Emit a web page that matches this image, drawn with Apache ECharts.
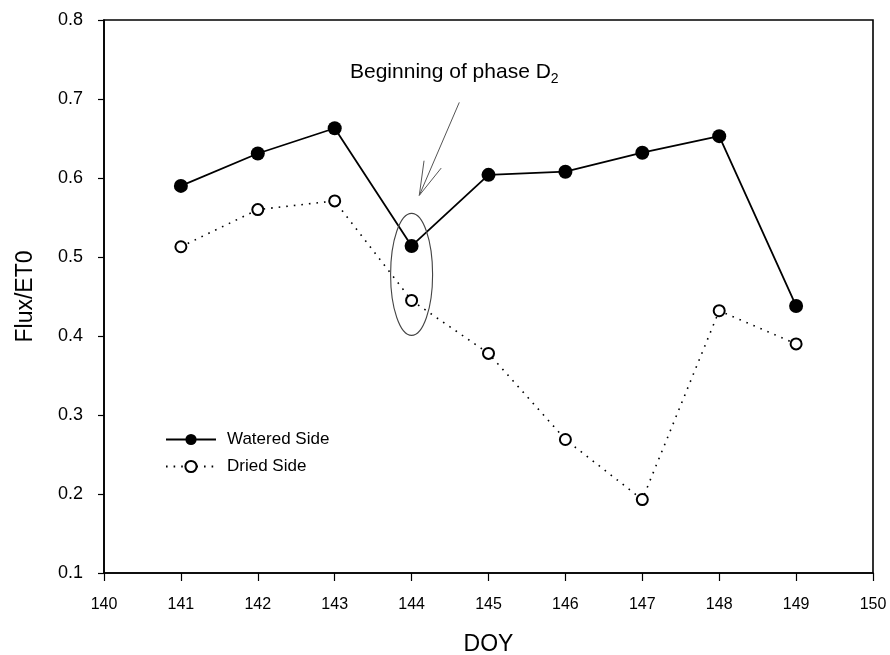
<!DOCTYPE html>
<html>
<head>
<meta charset="utf-8">
<script src="https://cdn.jsdelivr.net/npm/echarts@6/dist/echarts.min.js"></script>
<style>
  html, body { margin: 0; padding: 0; background: #fff; }
  #chart { width: 890px; height: 655px; }
</style>
</head>
<body>
<div id="chart"></div>
<script>
// Day of year
const doy = [141, 142, 143, 144, 145, 146, 147, 148, 149];
// Flux / ET0 ratio per side
const wateredSide = [0.590, 0.631, 0.663, 0.514, 0.604, 0.608, 0.632, 0.653, 0.438];
const driedSide   = [0.513, 0.560, 0.571, 0.445, 0.378, 0.269, 0.193, 0.432, 0.390];
// Axis tick values
const xTicks = [140, 141, 142, 143, 144, 145, 146, 147, 148, 149, 150];
const yTicks = [0.1, 0.2, 0.3, 0.4, 0.5, 0.6, 0.7, 0.8];

const FONT = '"Liberation Sans", Arial, sans-serif';
const chart = echarts.init(document.getElementById('chart'), null, { renderer: 'canvas' });

const pairs = (xs, ys) => xs.map((x, i) => [x, ys[i]]);

const option = {
  animation: false,
  backgroundColor: '#fff',
  grid: {
    left: 104, right: 17, top: 20, bottom: 82,
    outerBoundsMode: 'none', containLabel: false,
    show: true, borderColor: '#000', borderWidth: 1.6, backgroundColor: 'transparent'
  },
  xAxis: {
    type: 'value',
    min: xTicks[0], max: xTicks[xTicks.length - 1], interval: 1,
    name: 'DOY', nameLocation: 'middle', nameGap: 60,
    nameTextStyle: { fontFamily: FONT, fontSize: 23, color: '#000' },
    axisLine: { show: true, lineStyle: { color: '#000', width: 1.6 } },
    axisTick: { show: true, inside: false, length: 8, lineStyle: { color: '#000', width: 1.2 } },
    axisLabel: { fontFamily: FONT, fontSize: 16, color: '#000', margin: 24 },
    splitLine: { show: false }
  },
  yAxis: {
    type: 'value',
    min: yTicks[0], max: yTicks[yTicks.length - 1], interval: 0.1,
    name: 'Flux/ET0', nameLocation: 'middle', nameGap: 67, nameRotate: 90,
    nameTextStyle: { fontFamily: FONT, fontSize: 23, color: '#000' },
    axisLine: { show: true, lineStyle: { color: '#000', width: 1.6 } },
    axisTick: { show: true, inside: false, length: 6, lineStyle: { color: '#000', width: 1.2 } },
    axisLabel: { fontFamily: FONT, fontSize: 18, color: '#000', margin: 21,
      formatter: v => v.toFixed(1) },
    splitLine: { show: false }
  },
  legend: {
    orient: 'vertical', left: 160, top: 426, itemGap: 10,
    itemWidth: 50, itemHeight: 14,
    textStyle: { fontFamily: FONT, fontSize: 17, color: '#000', padding: [0, 0, 0, 6] },
    data: ['Watered Side', 'Dried Side']
  },
  series: [
    {
      name: 'Watered Side', type: 'line',
      data: pairs(doy, wateredSide),
      symbol: 'circle', symbolSize: 14,
      itemStyle: { color: '#000', borderColor: '#000', borderWidth: 0 },
      lineStyle: { color: '#000', width: 1.8 },
      z: 3
    },
    {
      name: 'Dried Side', type: 'line',
      data: pairs(doy, driedSide),
      symbol: 'circle', symbolSize: 11,
      itemStyle: { color: '#fff', borderColor: '#000', borderWidth: 2 },
      lineStyle: { color: '#000', width: 1.6, type: [1.6, 6] },
      z: 2
    }
  ]
};
chart.setOption(option);

// Annotation: ellipse around DOY 144 and the labelled arrow
const ctr = chart.convertToPixel({ gridIndex: 0 }, [144, 0.478]);
const tip = chart.convertToPixel({ gridIndex: 0 }, [144.1, 0.578]);
const tail = [tip[0] + 40, tip[1] - 93];
const ang = Math.atan2(tail[1] - tip[1], tail[0] - tip[0]);
const headLen = 35, spread = 0.27;
const h1 = [tip[0] + headLen * Math.cos(ang - spread), tip[1] + headLen * Math.sin(ang - spread)];
const h2 = [tip[0] + headLen * Math.cos(ang + spread), tip[1] + headLen * Math.sin(ang + spread)];

chart.setOption({
  graphic: [
    { type: 'ellipse', shape: { cx: ctr[0], cy: ctr[1], rx: 21, ry: 61 },
      style: { fill: 'none', stroke: '#444', lineWidth: 1.1 }, z: 10 },
    { type: 'line', shape: { x1: tail[0], y1: tail[1], x2: tip[0], y2: tip[1] },
      style: { stroke: '#555', lineWidth: 1 }, z: 10 },
    { type: 'line', shape: { x1: tip[0], y1: tip[1], x2: h1[0], y2: h1[1] },
      style: { stroke: '#555', lineWidth: 1 }, z: 10 },
    { type: 'line', shape: { x1: tip[0], y1: tip[1], x2: h2[0], y2: h2[1] },
      style: { stroke: '#555', lineWidth: 1 }, z: 10 },
    { type: 'text', left: 350, top: 62, z: 10,
      style: {
        text: 'Beginning of phase D{sub|2}',
        fontFamily: FONT, fontSize: 21, fill: '#000',
        rich: { sub: { fontFamily: FONT, fontSize: 14, fill: '#000', padding: [14, 0, 0, 0] } }
      } }
  ]
});
</script>
</body>
</html>
